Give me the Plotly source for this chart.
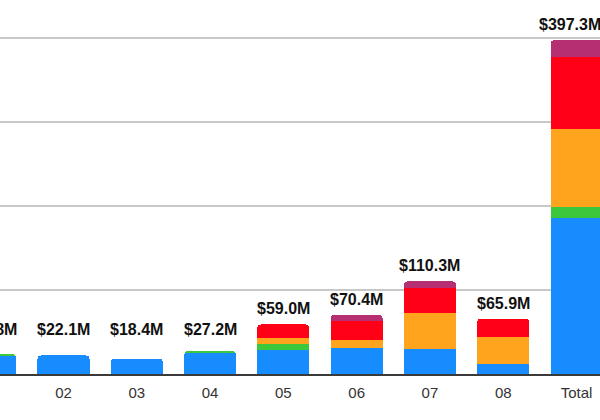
import plotly.graph_objects as go

months = ["01", "02", "03", "04", "05", "06", "07", "08", "Total"]
labels = ["$23.8M", "$22.1M", "$18.4M", "$27.2M", "$59.0M", "$70.4M", "$110.3M", "$65.9M", "$397.3M"]
totals = [23.8, 22.1, 18.4, 27.2, 59.0, 70.4, 110.3, 65.9, 397.3]

# stacked segments, in $M, bottom to top
blue = [22.6, 22.1, 18.4, 25.7, 28.5, 30.6, 29.3, 12.2, 185.9]
green = [1.2, 0, 0, 1.5, 7.3, 0, 0, 0, 12.6]
orange = [0, 0, 0, 0, 7.0, 9.7, 43.8, 32.1, 92.7]
red = [0, 0, 0, 0, 16.2, 22.9, 29.2, 21.6, 86.7]
purple = [0, 0, 0, 0, 0, 7.2, 8.0, 0, 19.4]

segments = [
    ("blue", blue, "#168cff"),
    ("green", green, "#3cc83c"),
    ("orange", orange, "#ffa41c"),
    ("red", red, "#ff0016"),
    ("purple", purple, "#b52f72"),
]

label_font = dict(family="Liberation Sans", size=16, color="#111111", weight="bold")

fig = go.Figure()
for name, vals, color in segments:
    fig.add_trace(go.Bar(
        x=months, y=vals, name=name,
        marker=dict(color=color, line=dict(width=0)),
        hoverinfo="skip",
    ))

# value labels above each stack; the small months share a common floor
# (category index for x, since "01".."08" would be read as numbers)
last = len(labels) - 1
for i, (lab, v) in enumerate(zip(labels, totals)):
    fig.add_annotation(
        x=i, y=max(v, 35), text=lab, showarrow=False,
        yanchor="bottom", yshift=5,
        xshift=-7 if i == last else 0,  # keep the Total label inside the page
        font=label_font,
    )

# the source image is cropped on the left: the figure is 20px wider than the
# window and shifted left, so the first month only shows partly
fig.update_layout(
    barmode="stack",
    bargap=0.29,
    barcornerradius=4,
    showlegend=False,
    width=620, height=420,
    margin=dict(l=0, r=0, t=0, b=46),
    plot_bgcolor="white",
    paper_bgcolor="white",
    xaxis=dict(
        type="category", range=[-0.139, 8.32],
        showgrid=False, showline=True, linecolor="#3a3a3a", linewidth=1.5,
        ticks="", ticklabelstandoff=4,
        tickfont=dict(family="Liberation Sans", size=15, color="#333333"),
    ),
    yaxis=dict(
        range=[0, 445.2], dtick=100, showticklabels=False,
        gridcolor="#c8c8c8", gridwidth=1.5, zeroline=False,
    ),
)

fig.write_html(
    "out.html",
    config={"displayModeBar": False},
    post_script="document.body.style.margin='0 0 0 -20px';"
                "document.body.style.overflow='hidden';",
)
